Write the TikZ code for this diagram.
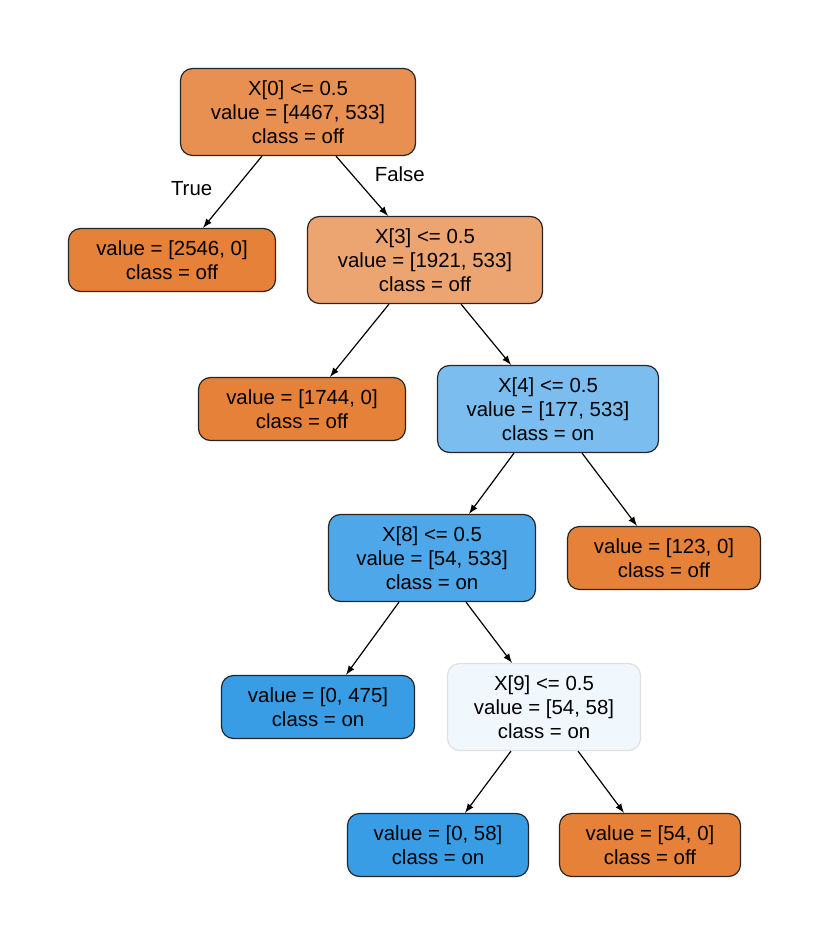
\documentclass[tikz,border=0pt]{standalone}
\usepackage{fontspec}
\setmainfont{Liberation Sans}
\definecolor{org}{HTML}{E58139}
\definecolor{blu}{HTML}{399DE5}
\begin{document}
\begin{tikzpicture}[x=0.5pt,y=-0.5pt,
  tn/.style={draw=black!85,rounded corners=6pt,line width=0.6pt,align=center,font=\fontsize{10.2}{12}\selectfont,inner sep=0pt,minimum height=#1},
  tn/.default=43.5pt,
  ed/.style={-latex,line width=0.6pt}]
\useasboundingbox (0,0) rectangle (830,945);
\node[tn,fill=org!88!white,minimum width=117.5pt] (n0) at (298,112) {X[0] <= 0.5\\value = [4467, 533]\\class = off};
\node[tn=31.5pt,fill=org,minimum width=103.5pt] (n1) at (172,260) {value = [2546, 0]\\class = off};
\node[tn,fill=org!72!white,minimum width=117.5pt] (n2) at (425,260) {X[3] <= 0.5\\value = [1921, 533]\\class = off};
\node[tn=31.5pt,fill=org,minimum width=103.5pt] (n3) at (302,409) {value = [1744, 0]\\class = off};
\node[tn,fill=blu!67!white,minimum width=110.5pt] (n4) at (548,409) {X[4] <= 0.5\\value = [177, 533]\\class = on};
\node[tn,fill=blu!90!white,minimum width=103.5pt] (n5) at (432,558) {X[8] <= 0.5\\value = [54, 533]\\class = on};
\node[tn=31.5pt,fill=org,minimum width=96.5pt] (n6) at (664,558) {value = [123, 0]\\class = off};
\node[tn=31.5pt,fill=blu,minimum width=96.5pt] (n7) at (318,707) {value = [0, 475]\\class = on};
\node[tn,fill=blu!7!white,draw=black!12,minimum width=96.5pt] (n8) at (544,707) {X[9] <= 0.5\\value = [54, 58]\\class = on};
\node[tn=31.5pt,fill=blu,minimum width=90.5pt] (n9) at (438,845) {value = [0, 58]\\class = on};
\node[tn=31.5pt,fill=org,minimum width=90.5pt] (n10) at (650,845) {value = [54, 0]\\class = off};
\draw[ed] (n0.south -| 262,0) -- (n1.north -| 203,0) node[pos=0.45,left=8pt,font=\fontsize{10.2}{12}\selectfont]{True};
\draw[ed] (n0.south -| 336,0) -- (n2.north -| 388,0) node[pos=0.3,right=8pt,font=\fontsize{10.2}{12}\selectfont]{False};
\draw[ed] (n2.south -| 389,0) -- (n3.north -| 330,0);
\draw[ed] (n2.south -| 461,0) -- (n4.north -| 511,0);
\draw[ed] (n4.south -| 514,0) -- (n5.north -| 469,0);
\draw[ed] (n4.south -| 582,0) -- (n6.north -| 637,0);
\draw[ed] (n5.south -| 399,0) -- (n7.north -| 346,0);
\draw[ed] (n5.south -| 466,0) -- (n8.north -| 512,0);
\draw[ed] (n8.south -| 511,0) -- (n9.north -| 465,0);
\draw[ed] (n8.south -| 578,0) -- (n10.north -| 624,0);
\end{tikzpicture}
\end{document}
